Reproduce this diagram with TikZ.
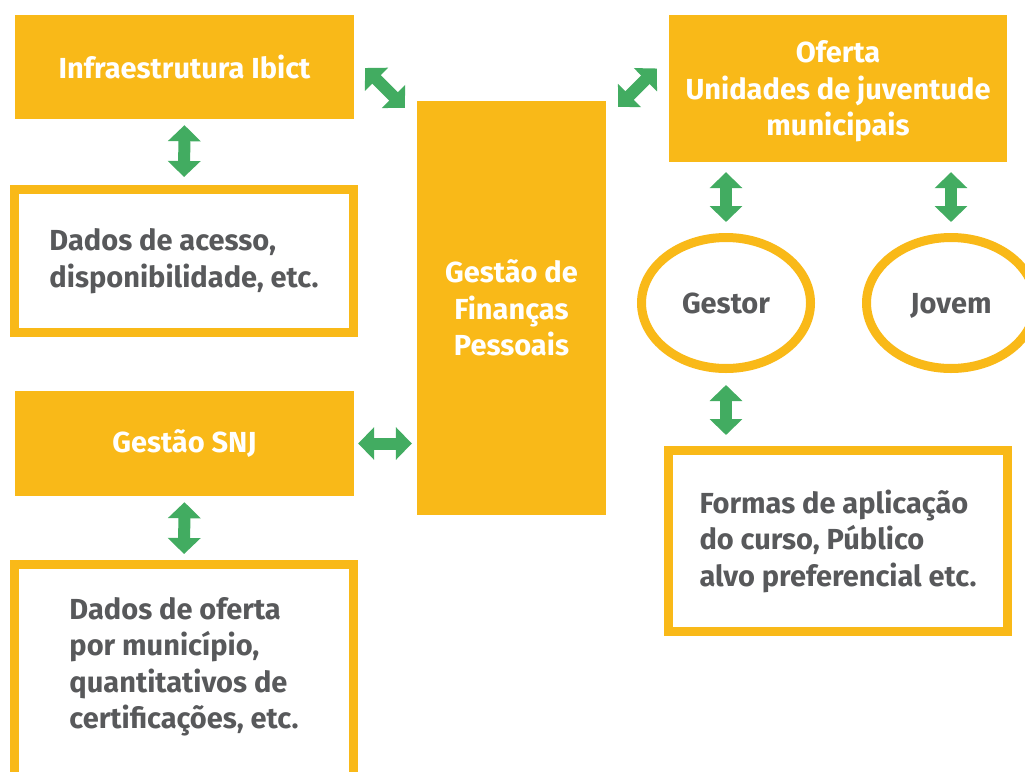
\documentclass[tikz,border=0pt]{standalone}
\usepackage{fontspec}
\setmainfont{Fira Sans}
\usetikzlibrary{arrows.meta,shapes.geometric}
\definecolor{gold}{HTML}{F9B918}
\definecolor{grn}{HTML}{42AC61}
\definecolor{txt}{HTML}{58595B}
\begin{document}
\begin{tikzpicture}[x=1pt,y=-1pt,
 every node/.style={font=\fontsize{29}{36.5}\selectfont\bfseries, inner sep=0pt},
 fbox/.style={fill=gold, text=white, align=center},
 wbox/.style={draw=gold, line width=9pt, fill=white, text=txt, align=left},
 wtext/.style={text=txt, align=left},
 oval/.style={ellipse, draw=gold, line width=9pt, fill=white, text=txt, text depth=0pt, minimum width=169pt, minimum height=131pt},
 arr/.style={draw=grn, line width=12pt, {Triangle[width=32pt,length=16pt]}-{Triangle[width=32pt,length=16pt]}}]
\useasboundingbox (0,0) rectangle (1025,771);
\fill[white] (0,0) rectangle (1025,771);

\node[fbox, minimum width=339pt, minimum height=104pt] (infra) at (184.5,67) {Infraestrutura Ibict};
\node[wbox, minimum width=339pt, minimum height=143pt] (acesso) at (184,261) {Dados de acesso,\\disponibilidade, etc.};
\node[fbox, minimum width=339pt, minimum height=105pt] (snj) at (184.5,443.5) {Gestão SNJ};
\node[wbox, minimum width=339pt, minimum height=225pt] (dados) at (184,677) {};
\node[wtext] (dadostxt) at ([yshift=10pt]dados.center) {Dados de oferta\\por município,\\quantitativos de\\certificações, etc.};
\node[fbox, minimum width=189pt, minimum height=414pt] (gfp) at (511.5,308) {Gestão de\\Finanças\\Pessoais};
\node[fbox, minimum width=338pt, minimum height=147pt] (oferta) at (838,88.5) {};
\node[fbox, fill=none] (ofertatxt) at ([yshift=-3pt]oferta.center) {Oferta\\Unidades de juventude\\municipais};
\node[oval] (gestor) at (726,303) {Gestor};
\node[oval] (jovem) at (951,303) {Jovem};
\node[wbox, minimum width=339pt, minimum height=181pt] (formas) at (838,541) {Formas de aplicação\\do curso, Público\\alvo preferencial etc.};

\draw[arr, shorten <=6pt, shorten >=8pt] (infra.south) -- (acesso.north);
\draw[arr, shorten <=6pt, shorten >=6pt] (snj.south) -- (dados.north);
\draw[arr, shorten <=4pt, shorten >=5pt] (snj.east) -- (snj.east -| gfp.west);
\draw[arr] ([shift={(11,1)}]infra.east) -- ([shift={(-12,7)}]gfp.north west);
\draw[arr] ([shift={(12,6)}]gfp.north east) -- ([shift={(-12,-20)}]oferta.west);
\draw[arr, shorten <=10pt, shorten >=11pt] (gestor.north |- oferta.south) -- (gestor.north);
\draw[arr, shorten <=10pt, shorten >=11pt] (jovem.north |- oferta.south) -- (jovem.north);
\draw[arr, shorten <=12pt, shorten >=11pt] (gestor.south) -- (gestor.south |- formas.north);
\end{tikzpicture}
\end{document}
